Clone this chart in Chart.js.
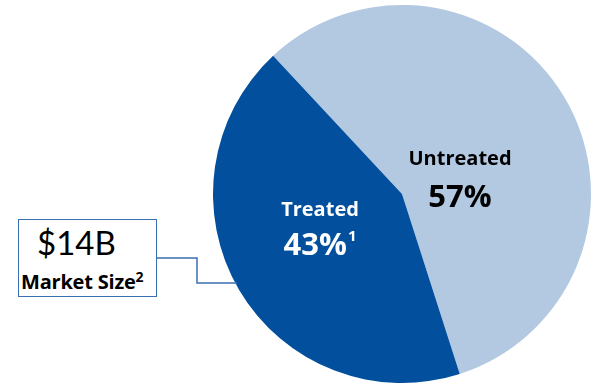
<!DOCTYPE html>
<html>
<head>
    <title>Treated vs Untreated</title>
    <script src="https://cdn.jsdelivr.net/npm/chart.js"></script>
    <style>
        body { margin: 0; background: #fff; }
        #wrap { position: relative; width: 600px; height: 390px; }
        #callout {
            position: absolute; left: 18px; top: 219px; width: 137px; height: 76px;
            border: 1.5px solid #3a6fb3; background: #fff;
            font-family: Lato, sans-serif; color: #000;
        }
        #callout .big { position: absolute; left: 18px; top: 6px; font-size: 33px; line-height: 33px; }
        #callout .small { position: absolute; left: 2px; top: 52px; font-family: 'Open Sans', sans-serif; font-size: 20px; line-height: 20px; font-weight: bold; white-space: nowrap; letter-spacing: -0.2px; }
        #callout .small span { font-size: 14px; position: relative; top: -7px; margin-left: 0px; }
    </style>
</head>
<body>
<div id="wrap">
    <canvas id="myChart" width="600" height="390"></canvas>
    <div id="callout">
        <div class="big">$14B</div>
        <div class="small">Market Size<span>2</span></div>
    </div>
</div>
<script>
    // chart data
    var categories = ['Untreated', 'Treated'];
    var shares = [57, 43];
    var footnotes = ['', '1'];
    var sliceColors = ['#b3c9e1', '#02509d'];
    var labelColors = ['#000000', '#ffffff'];

    // label anchors relative to pie centre (x, name baseline, pct baseline)
    var labelPos = [[58, -29, 13], [-82, 22, 61]];

    var labelPlugin = {
        id: 'sliceLabels',
        afterDraw: function(chart) {
            var ctx = chart.ctx;
            var arcs = chart.getDatasetMeta(0).data;
            var cx = arcs[0].x, cy = arcs[0].y, r = arcs[0].outerRadius;

            // connector from the callout box to the Treated slice
            var y2 = cy + 89;
            var edgeX = cx - Math.sqrt(r * r - 89 * 89);
            ctx.save();
            ctx.strokeStyle = '#3a6fb3';
            ctx.lineWidth = 1.5;
            ctx.beginPath();
            ctx.moveTo(157, 258);
            ctx.lineTo(197, 258);
            ctx.lineTo(197, y2);
            ctx.lineTo(edgeX + 2, y2);
            ctx.stroke();

            ctx.textAlign = 'left';
            ctx.textBaseline = 'alphabetic';
            for (var i = 0; i < categories.length; i++) {
                var p = labelPos[i];
                ctx.fillStyle = labelColors[i];
                ctx.font = 'bold 20px "Open Sans"';
                var w = ctx.measureText(categories[i]).width;
                ctx.fillText(categories[i], cx + p[0] - w / 2, cy + p[1]);

                var pct = shares[i] + '%';
                ctx.font = 'bold 31px "Open Sans"';
                var pw = ctx.measureText(pct).width;
                ctx.font = 'bold 15px "Open Sans"';
                var sw = footnotes[i] ? ctx.measureText(footnotes[i]).width + 1 : 0;
                var x0 = cx + p[0] - (pw + sw) / 2;
                ctx.font = 'bold 31px "Open Sans"';
                ctx.fillText(pct, x0, cy + p[2]);
                if (footnotes[i]) {
                    ctx.font = 'bold 15px "Open Sans"';
                    ctx.fillText(footnotes[i], x0 + pw + 1, cy + p[2] - 14);
                }
            }
            ctx.restore();
        }
    };

    var ctx = document.getElementById('myChart').getContext('2d');
    var myChart = new Chart(ctx, {
        type: 'pie',
        data: {
            labels: categories,
            datasets: [{
                data: shares,
                backgroundColor: sliceColors,
                borderWidth: 0,
                hoverOffset: 0
            }]
        },
        options: {
            responsive: false,
            animation: false,
            events: [],
            rotation: 317,
            layout: { padding: { left: 213, right: 9, top: 5, bottom: 7 } },
            plugins: {
                legend: { display: false },
                tooltip: { enabled: false }
            }
        },
        plugins: [labelPlugin]
    });
</script>
</body>
</html>
